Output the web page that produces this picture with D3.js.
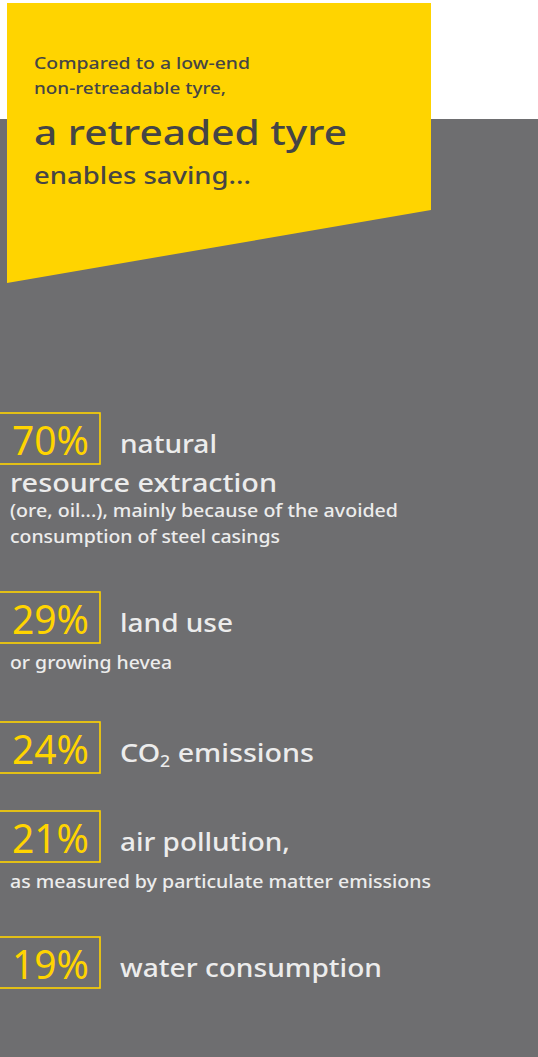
<!DOCTYPE html>
<html>
<head>
<meta charset="utf-8">
<script src="https://cdn.jsdelivr.net/npm/d3@7/dist/d3.min.js"></script>
<style>
  html, body { margin: 0; padding: 0; background: #ffffff; }
  svg { display: block; }
  text { font-family: "Noto Sans", "Open Sans", sans-serif; font-weight: 480; }
</style>
</head>
<body>
<div id="chart"></div>
<script>
// Savings of a retreaded tyre versus a low-end non-retreadable tyre
const categories = ["natural", "land use", "CO2 emissions", "air pollution,", "water consumption"];
const values = [70, 29, 24, 21, 19];
const secondLines = ["resource extraction", "", "", "", ""];
const notes = [
  ["(ore, oil...), mainly because of the avoided", "consumption of steel casings"],
  ["or growing hevea"],
  [],
  ["as measured by particulate matter emissions"],
  []
];
const introLines = ["Compared to a low-end", "non-retreadable tyre,"];
const headline = "a retreaded tyre";
const subHeadline = "enables saving...";

const W = 538, H = 1057;
const YELLOW = "#ffd400", GREY = "#6e6e70", DARK = "#454545", LIGHT = "#ececec";

const svg = d3.select("#chart").append("svg").attr("width", W).attr("height", H);

// grey panel
svg.append("rect").attr("x", 0).attr("y", 119).attr("width", W).attr("height", H - 119).attr("fill", GREY);

// yellow banner
svg.append("polygon")
  .attr("points", [[7, 3], [431, 3], [431, 210], [7, 283]].map(p => p.join(",")).join(" "))
  .attr("fill", YELLOW);

function fitText(sel, len) {
  sel.attr("textLength", len).attr("lengthAdjust", "spacingAndGlyphs");
}

svg.append("text").attr("x", 34).attr("y", 69).attr("font-size", 16).attr("fill", DARK)
  .text(introLines[0]).call(fitText, 216);
svg.append("text").attr("x", 34).attr("y", 94).attr("font-size", 16).attr("fill", DARK)
  .text(introLines[1]).call(fitText, 192);
svg.append("text").attr("x", 34).attr("y", 145).attr("font-size", 34).attr("fill", DARK)
  .text(headline).call(fitText, 313);
svg.append("text").attr("x", 34).attr("y", 184).attr("font-size", 23.5).attr("fill", DARK)
  .text(subHeadline).call(fitText, 217);

// vertical placement of each saving block
const yTop = d3.scaleOrdinal().domain(categories).range([413, 592, 722, 811, 937]);
const boxH = 51, boxW = 101;

const rows = svg.selectAll("g.row").data(categories.map((c, i) => ({
  cat: c, value: values[i], second: secondLines[i], notes: notes[i]
}))).join("g").attr("class", "row")
  .attr("transform", d => `translate(0,${yTop(d.cat)})`);

rows.append("rect")
  .attr("x", -1).attr("y", 0).attr("width", boxW).attr("height", boxH)
  .attr("fill", "none").attr("stroke", YELLOW).attr("stroke-width", 1.6);

rows.append("text")
  .attr("x", 12).attr("y", 42).attr("font-size", 40).attr("fill", YELLOW)
  .style("font-weight", 400)
  .text(d => d.value + "%")
  .call(fitText, 77);

const titleWidths = { "natural": 97, "land use": 113, "CO2 emissions": 194, "air pollution,": 170, "water consumption": 262 };
const noteWidths = {
  "(ore, oil...), mainly because of the avoided": 388,
  "consumption of steel casings": 270,
  "or growing hevea": 162,
  "as measured by particulate matter emissions": 421
};

rows.each(function(d) {
  const g = d3.select(this);
  const t = g.append("text").attr("x", 120).attr("y", 40).attr("font-size", 26).attr("fill", LIGHT);
  if (d.cat === "CO2 emissions") {
    t.append("tspan").text("CO");
    t.append("tspan").attr("font-size", 16).attr("dy", 5).text("2");
    t.append("tspan").attr("dy", -5).text(" emissions");
  } else {
    t.text(d.cat);
  }
  t.call(fitText, titleWidths[d.cat]);
  let y = 40;
  if (d.second) {
    y += 39;
    g.append("text").attr("x", 10).attr("y", y).attr("font-size", 26).attr("fill", LIGHT)
      .text(d.second).call(fitText, 267);
  }
  d.notes.forEach((n, k) => {
    y += (k === 0 ? (d.second ? 25 : 37) : 26);
    g.append("text").attr("x", 10).attr("y", y).attr("font-size", 18).attr("fill", LIGHT)
      .text(n).call(fitText, noteWidths[n]);
  });
});
</script>
</body>
</html>
